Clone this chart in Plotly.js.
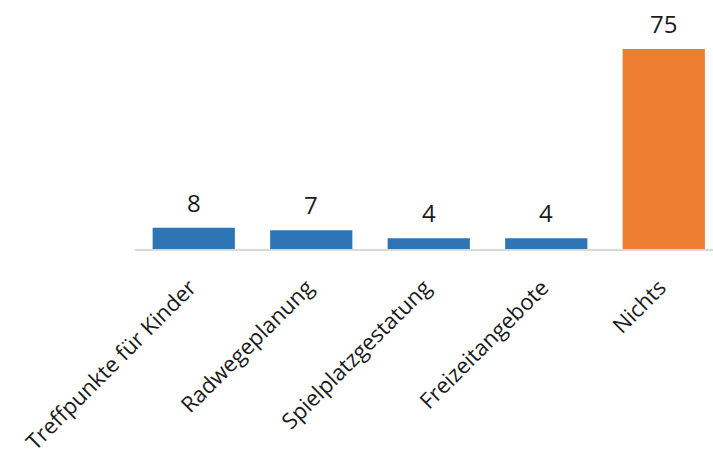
<!DOCTYPE html>
<html>
<head>
<meta charset="utf-8">
<script src="https://cdn.plot.ly/plotly-3.0.1.min.js"></script>
<style>html,body{margin:0;padding:0;background:#fff;}#chart{width:713px;height:459px;}</style>
</head>
<body>
<div id="chart"></div>
<script>
const categories = ["Treffpunkte für Kinder", "Radwegeplanung", "Spielplatzgestatung", "Freizeitangebote", "Nichts"];
const values = [8, 7, 4, 4, 75];
const barColors = ["#2E75B6", "#2E75B6", "#2E75B6", "#2E75B6", "#ED7D31"];

const font = "'Open Sans', 'Noto Sans', sans-serif";

const trace = {
  type: "bar",
  x: categories,
  y: values,
  marker: { color: barColors },
  width: 0.7,
  hoverinfo: "none"
};

const annotations = categories.map((c, i) => ({
  x: c, y: values[i], xref: "x", yref: "y",
  text: String(values[i]),
  showarrow: false,
  yanchor: "bottom",
  yshift: 7,
  font: { family: font, size: 24, color: "#1a1a1a" }
}));

const layout = {
  width: 713, height: 459,
  margin: { l: 135, r: 0, t: 0, b: 210 },
  paper_bgcolor: "#fff", plot_bgcolor: "#fff",
  showlegend: false,
  xaxis: {
    type: "category",
    range: [-0.5, 4.419],
    tickangle: -45,
    tickfont: { family: font, size: 22, color: "#1a1a1a" },
    ticklabelshift: -4,
    ticklabelstandoff: 15,
    showline: true, linecolor: "#d9d9d9", linewidth: 2,
    ticks: "", showgrid: false, zeroline: false
  },
  yaxis: {
    range: [0, 93.4],
    visible: false, showgrid: false, zeroline: false
  },
  annotations: annotations
};

Plotly.newPlot("chart", [trace], layout, { displayModeBar: false, staticPlot: true });
</script>
</body>
</html>
